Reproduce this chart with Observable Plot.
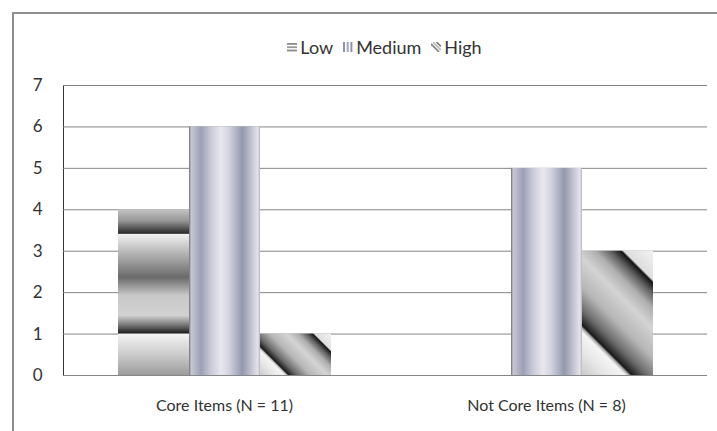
<!DOCTYPE html>
<html>
<head>
<meta charset="utf-8">
<script src="https://cdn.jsdelivr.net/npm/d3@7"></script>
<script src="https://cdn.jsdelivr.net/npm/@observablehq/plot@0.6"></script>
<style>
html, body { margin: 0; padding: 0; background: #fff; width: 717px; height: 431px; overflow: hidden; }
#frame { position: absolute; left: 12px; top: 12px; width: 730px; height: 440px; border-left: 2px solid #8e8e8e; border-top: 2px solid #8e8e8e; }
#legend { position: absolute; top: 36px; left: 62px; width: 645px; display: flex; justify-content: center; align-items: center; font-family: Lato, "Open Sans", sans-serif; font-size: 18px; color: #333; }
#legend .item { display: flex; align-items: center; margin: 0 5px; }
#legend svg { margin-right: 3px; }
#chart { position: absolute; left: 0; top: 70px; }
</style>
</head>
<body>
<div id="frame"></div>
<svg width="0" height="0" style="position:absolute"><defs id="gdefs"></defs></svg>
<div id="legend"></div>
<div id="chart"></div>
<script>
// ---- data ----
const groups = ["Core Items (N = 11)", "Not Core Items (N = 8)"];
const levels = ["Low", "Medium", "High"];
const lowValues = [4, 0];
const mediumValues = [6, 5];
const highValues = [1, 3];
const yTicks = [0, 1, 2, 3, 4, 5, 6, 7];

const rows = [];
groups.forEach((g, i) => {
  rows.push({group: g, level: "Low", value: lowValues[i]});
  rows.push({group: g, level: "Medium", value: mediumValues[i]});
  rows.push({group: g, level: "High", value: highValues[i]});
});

// ---- gradient styles ----
const lowStops = [[0,"#c4c4c4"],[0.07,"#969696"],[0.145,"#2a2a2a"],[0.152,"#f0f0f0"],[0.27,"#b2b2b2"],[0.41,"#6a6a6a"],[0.52,"#c8c8c8"],[0.64,"#d2d2d2"],[0.70,"#747474"],[0.745,"#222"],[0.755,"#f2f2f2"],[0.88,"#cacaca"],[1,"#9c9c9c"]];
const medStops = [[0,"#6e6e78"],[0.03,"#c8c8d2"],[0.17,"#9ca0b6"],[0.30,"#c6c8d6"],[0.45,"#e8e8ee"],[0.56,"#d2d4e0"],[0.75,"#9498ae"],[0.88,"#c2c4d2"],[0.97,"#e4e4ea"],[1,"#b4b4c0"]];
const highStops = [[0,"#cacaca"],[0.12,"#e6e6e6"],[0.22,"#f4f4f4"],[0.24,"#b0b0b0"],[0.255,"#1a1a1a"],[0.33,"#6a6a6a"],[0.45,"#b6b6b6"],[0.6,"#d4d4d4"],[0.70,"#b0b0b0"],[0.78,"#606060"],[0.835,"#141414"],[0.85,"#dedede"],[1,"#f2f2f2"]];

const NS = "http://www.w3.org/2000/svg";
function makeGrad(id, stops, attrs) {
  const lg = document.createElementNS(NS, "linearGradient");
  lg.setAttribute("id", id);
  for (const k in attrs) lg.setAttribute(k, attrs[k]);
  for (const [o, c] of stops) {
    const s = document.createElementNS(NS, "stop");
    s.setAttribute("offset", o);
    s.setAttribute("stop-color", c);
    lg.appendChild(s);
  }
  return lg;
}
const defs = document.getElementById("gdefs");
defs.appendChild(makeGrad("gLow", lowStops, {x1: 0, y1: 0, x2: 0, y2: 1}));
defs.appendChild(makeGrad("gMedium", medStops, {x1: 0, y1: 0, x2: 1, y2: 0}));
defs.appendChild(makeGrad("gHigh", highStops, {x1: 0, y1: 1, x2: 1, y2: 0}));

// ---- chart ----
const chart = Plot.plot({
  width: 717,
  height: 361,
  marginTop: 15,
  marginBottom: 56,
  marginLeft: 62,
  marginRight: 10,
  style: {fontFamily: "Lato, 'Open Sans', sans-serif", fontSize: "16px", color: "#333", background: "transparent", overflow: "visible"},
  facet: {data: rows, x: "group"},
  fx: {domain: groups, padding: 0, label: null, tickSize: 0, tickPadding: 24, axis: "bottom"},
  x: {domain: levels, paddingInner: 0, paddingOuter: 0.74, axis: null},
  y: {domain: [0, 7], ticks: yTicks, tickSize: 0, tickPadding: 21, label: null, line: true, tickFormat: d => String(d)},
  color: {domain: levels, range: ["url(#gLow)", "url(#gMedium)", "url(#gHigh)"]},
  marks: [
    Plot.ruleY(yTicks.slice(1), {stroke: "#868686", strokeWidth: 1, strokeOpacity: 1}),
    Plot.barY(rows, {x: "level", y: "value", fill: "level"}),
    Plot.ruleY([0], {stroke: "#868686", strokeWidth: 1, strokeOpacity: 1})
  ]
});
document.getElementById("chart").appendChild(chart);

// diagonal gradient at a fixed 45° angle, stretched over each High bar
let hi = 0;
chart.querySelectorAll("rect").forEach(r => {
  if (r.getAttribute("fill") !== "url(#gHigh)") return;
  const x = +r.getAttribute("x"), y = +r.getAttribute("y");
  const w = +r.getAttribute("width"), h = +r.getAttribute("height");
  if (!(h > 0)) return;
  const s = (w + h) / 2;
  const id = "gHigh" + (hi++);
  defs.appendChild(makeGrad(id, highStops, {gradientUnits: "userSpaceOnUse", x1: x, y1: y + h, x2: x + s, y2: y + h - s}));
  r.setAttribute("fill", `url(#${id})`);
});
chart.querySelectorAll("[aria-label='y-axis tick'], [aria-label='y-axis line']").forEach(e => e.setAttribute("stroke", "#868686"));
chart.querySelectorAll("[aria-label='y-axis tick label'], [aria-label='y-axis']").forEach(e => e.setAttribute("font-size", "17px"));

// ---- legend ----
const iconDraw = {
  Low: '<rect x="0" y="1" width="10" height="1.8" fill="#8a8a8a"/><rect x="0" y="4.3" width="10" height="1.8" fill="#9a9a9a"/><rect x="0" y="7.6" width="10" height="1.8" fill="#8a8a8a"/>',
  Medium: '<rect x="0" y="0" width="2" height="10" fill="#9094aa"/><rect x="3.7" y="0" width="2" height="10" fill="#a4a8bc"/><rect x="7.4" y="0" width="2" height="10" fill="#9094aa"/>',
  High: '<line x1="0" y1="2" x2="8" y2="10" stroke="#8a8a8a" stroke-width="1.8"/><line x1="2" y1="0" x2="10" y2="8" stroke="#bdbdbd" stroke-width="1.8"/><line x1="5.5" y1="0" x2="10" y2="4.5" stroke="#7a7a7a" stroke-width="1.6"/>'
};
const legend = document.getElementById("legend");
levels.forEach(l => {
  const d = document.createElement("div");
  d.className = "item";
  d.innerHTML = `<svg width="10" height="10" viewBox="0 0 10 10">${iconDraw[l]}</svg><span>${l}</span>`;
  legend.appendChild(d);
});
</script>
</body>
</html>
